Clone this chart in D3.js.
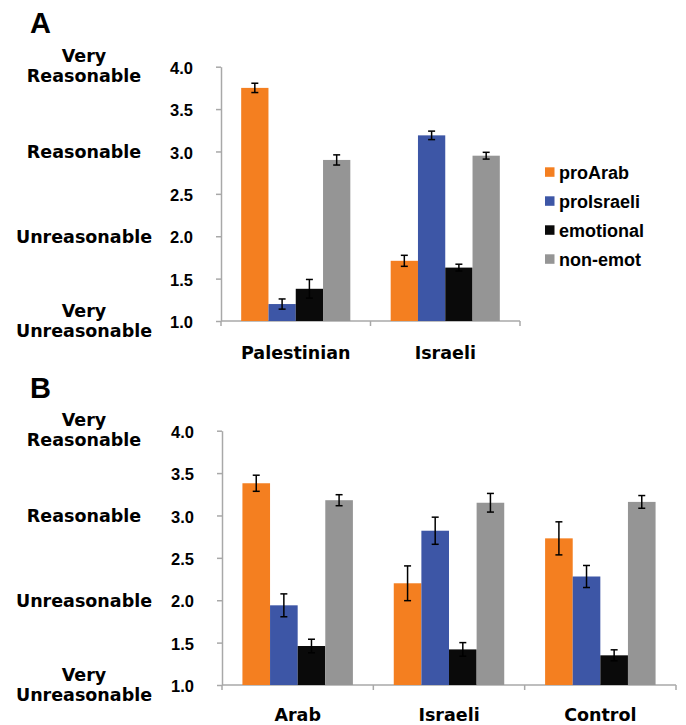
<!DOCTYPE html>
<html>
<head>
<meta charset="utf-8">
<script src="https://cdn.jsdelivr.net/npm/d3@7"></script>
<style>
  html, body { margin: 0; padding: 0; background: #fff; }
  svg { display: block; }
</style>
</head>
<body>
<svg id="chart" width="686" height="725"></svg>
<script>
// ---------- data ----------
const seriesNames = ["proArab", "proIsraeli", "emotional", "non-emot"];
const seriesColors = ["#F47F20", "#3D56A6", "#0A0A0A", "#959595"];

const panelACategories = ["Palestinian", "Israeli"];
// rows = category, columns = series (proArab, proIsraeli, emotional, non-emot)
const panelAMeans = [
  [3.75, 1.20, 1.38, 2.90],
  [1.71, 3.19, 1.63, 2.95]
];
const panelAErrors = [
  [0.055, 0.06, 0.11, 0.06],
  [0.065, 0.05, 0.04, 0.04]
];

const panelBCategories = ["Arab", "Israeli", "Control"];
const panelBMeans = [
  [3.38, 1.94, 1.46, 3.18],
  [2.20, 2.82, 1.42, 3.15],
  [2.73, 2.28, 1.35, 3.16]
];
const panelBErrors = [
  [0.095, 0.135, 0.08, 0.065],
  [0.205, 0.16, 0.08, 0.11],
  [0.195, 0.13, 0.065, 0.075]
];

const yTickValues = [1.0, 1.5, 2.0, 2.5, 3.0, 3.5, 4.0];
const anchorValues = [4, 3, 2, 1];
const anchorLabels = [["Very", "Reasonable"], ["Reasonable"], ["Unreasonable"], ["Very", "Unreasonable"]];

// ---------- drawing ----------
const svg = d3.select("#chart");
const AXIS_COLOR = "#a8a8a8";
const HEAVY = "'DejaVu Sans', sans-serif";
const ARIAL = "'Liberation Sans', Arial, sans-serif";

function drawPanel(opts) {
  const { letter, letterY, cats, means, errors, xRange, yRange, catLabelY } = opts;
  const g = svg.append("g");

  const y = d3.scaleLinear().domain([1, 4]).range(yRange);
  const x = d3.scaleBand().domain(cats).range(xRange).padding(0);
  const bw = x.bandwidth();
  const x1 = d3.scaleBand().domain(seriesNames).range([bw * 0.135, bw * 0.865]).padding(0);
  const color = d3.scaleOrdinal().domain(seriesNames).range(seriesColors);

  // panel letter
  g.append("text")
    .attr("x", 30).attr("y", letterY)
    .attr("font-family", ARIAL).attr("font-weight", "bold").attr("font-size", 29)
    .attr("fill", "#000")
    .text(letter);

  // y axis
  const yAxis = g.append("g")
    .attr("transform", `translate(${xRange[0]},0)`)
    .call(d3.axisLeft(y).tickValues(yTickValues).tickSize(5).tickSizeOuter(0)
      .tickPadding(23).tickFormat(d3.format(".1f")));
  yAxis.select(".domain").attr("stroke", AXIS_COLOR).attr("stroke-width", 1.5);
  yAxis.selectAll(".tick line").attr("stroke", AXIS_COLOR).attr("stroke-width", 1.5);
  yAxis.selectAll(".tick text")
    .attr("font-family", ARIAL).attr("font-weight", "bold").attr("font-size", 16.5)
    .attr("fill", "#000").attr("dy", "0.4em");

  // anchor labels on the far left
  anchorValues.forEach((v, i) => {
    const lines = anchorLabels[i];
    const t = g.append("text")
      .attr("text-anchor", "middle")
      .attr("font-family", HEAVY).attr("font-weight", "bold").attr("font-size", 17.5)
      .attr("fill", "#000");
    const base = lines.length === 2 ? y(v) - 4.5 : y(v) + 6.5;
    lines.forEach((ln, j) => {
      t.append("tspan").attr("x", 84).attr("y", base + j * 20).text(ln);
    });
  });

  // x axis baseline and boundary ticks
  const boundaries = cats.map(c => x(c)).concat([xRange[1]]);
  g.append("line")
    .attr("x1", xRange[0]).attr("x2", xRange[1])
    .attr("y1", y(1)).attr("y2", y(1))
    .attr("stroke", AXIS_COLOR).attr("stroke-width", 1.5);
  g.selectAll(".bt").data(boundaries).enter().append("line")
    .attr("x1", d => d).attr("x2", d => d)
    .attr("y1", y(1)).attr("y2", y(1) + 5)
    .attr("stroke", AXIS_COLOR).attr("stroke-width", 1.5);

  // category labels
  const xAxis = g.append("g")
    .attr("transform", `translate(0,${y(1)})`)
    .call(d3.axisBottom(x).tickSize(0).tickPadding(0));
  xAxis.select(".domain").remove();
  xAxis.selectAll(".tick text")
    .attr("font-family", HEAVY).attr("font-weight", "bold").attr("font-size", 17.5)
    .attr("fill", "#000").attr("y", catLabelY).attr("dy", 0);

  // bars
  const rows = [];
  cats.forEach((c, ci) => {
    seriesNames.forEach((s, si) => {
      rows.push({ cat: c, series: s, mean: means[ci][si], err: errors[ci][si] });
    });
  });

  g.selectAll(".bar").data(rows).enter().append("rect")
    .attr("x", d => x(d.cat) + x1(d.series))
    .attr("width", x1.bandwidth())
    .attr("y", d => y(d.mean))
    .attr("height", d => y(1) - y(d.mean))
    .attr("fill", d => color(d.series));

  // error bars
  const capW = 3.5;
  const eb = g.selectAll(".eb").data(rows).enter().append("g")
    .attr("stroke", "#000").attr("stroke-width", 1.5);
  eb.append("line")
    .attr("x1", d => x(d.cat) + x1(d.series) + x1.bandwidth() / 2)
    .attr("x2", d => x(d.cat) + x1(d.series) + x1.bandwidth() / 2)
    .attr("y1", d => y(d.mean + d.err)).attr("y2", d => y(d.mean - d.err));
  eb.append("line")
    .attr("x1", d => x(d.cat) + x1(d.series) + x1.bandwidth() / 2 - capW)
    .attr("x2", d => x(d.cat) + x1(d.series) + x1.bandwidth() / 2 + capW)
    .attr("y1", d => y(d.mean + d.err)).attr("y2", d => y(d.mean + d.err));
  eb.append("line")
    .attr("x1", d => x(d.cat) + x1(d.series) + x1.bandwidth() / 2 - capW)
    .attr("x2", d => x(d.cat) + x1(d.series) + x1.bandwidth() / 2 + capW)
    .attr("y1", d => y(d.mean - d.err)).attr("y2", d => y(d.mean - d.err));
}

drawPanel({
  letter: "A", letterY: 33,
  cats: panelACategories, means: panelAMeans, errors: panelAErrors,
  xRange: [221, 520], yRange: [321, 66.7], catLabelY: 38
});
drawPanel({
  letter: "B", letterY: 398,
  cats: panelBCategories, means: panelBMeans, errors: panelBErrors,
  xRange: [222, 676], yRange: [685, 430.7], catLabelY: 35.5
});

// legend
const legend = svg.append("g");
seriesNames.forEach((s, i) => {
  const by = 179.3 + i * 29;
  legend.append("rect")
    .attr("x", 545).attr("y", by - 12).attr("width", 9.5).attr("height", 9.5)
    .attr("fill", seriesColors[i]);
  legend.append("text")
    .attr("x", 559).attr("y", by)
    .attr("font-family", ARIAL).attr("font-weight", "bold").attr("font-size", 18)
    .attr("fill", "#000")
    .text(s);
});
</script>
</body>
</html>
